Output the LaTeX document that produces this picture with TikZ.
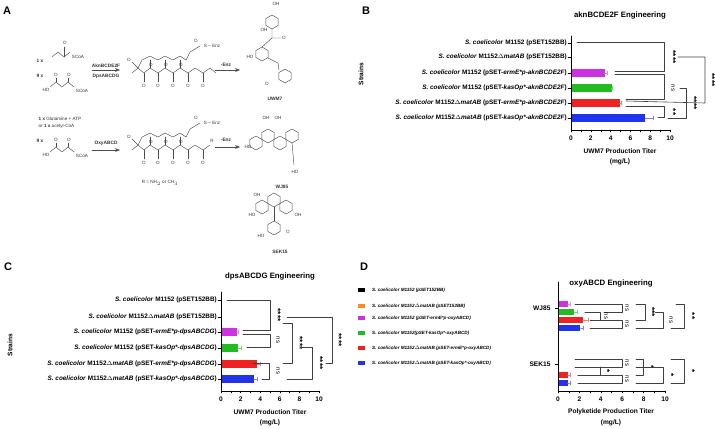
\documentclass[tikz,border=0pt]{standalone}
\usepackage{fontspec}
\setmainfont{Liberation Sans}
\usetikzlibrary{arrows.meta,calc,positioning}
\definecolor{barpurple}{HTML}{CC33DD}
\definecolor{bargreen}{HTML}{22BB22}
\definecolor{barred}{HTML}{EE2222}
\definecolor{barblue}{HTML}{2233EE}
\definecolor{barorange}{HTML}{FF8822}

% hexagon ring at (x,y)
\newcommand{\hexa}[2]{\draw[chem,shift={(#1,#2)}] (30:7)--(90:7)--(150:7)--(210:7)--(270:7)--(330:7)--cycle;}
% horizontal bar: x0, px per unit, y, value, error, colour, half height
\newcommand{\titerbar}[7]{%
  \fill[#6] (#1,#3-#7) rectangle ({#1+#2*#4},#3+#7);
  \draw[#6!60, thin] ({#1+#2*#4},#3) -- ({#1+#2*(#4+#5)},#3)
    ({#1+#2*(#4+#5)},#3-2) -- ({#1+#2*(#4+#5)},#3+2);}

\begin{document}
\begin{tikzpicture}[x=1pt, y=-1pt,
  >=Stealth, line cap=round, line join=round,
  chem/.style ={black!70, line width=0.45pt},
  ctxt/.style ={font=\fontsize{4.6}{5}\selectfont, inner sep=0.5pt, text=black!80},
  ctb/.style  ={ctxt, font=\fontsize{4.8}{5}\selectfont\bfseries},
  ltr/.style  ={font=\fontsize{11}{12}\selectfont\bfseries},
  ttl/.style  ={font=\fontsize{7.8}{9}\selectfont\bfseries},
  strain/.style={font=\fontsize{6.4}{7}\selectfont\bfseries, anchor=east, inner sep=1pt},
  leg/.style  ={font=\fontsize{4.6}{5}\selectfont\bfseries\itshape, anchor=west, inner sep=0pt},
  tick/.style ={font=\fontsize{6.6}{7}\selectfont\bfseries},
  brk/.style  ={black!75, line width=0.6pt},
  sig/.style  ={font=\fontsize{8}{8}\selectfont\bfseries, rotate=-90, inner sep=0pt},
  ns/.style   ={font=\fontsize{6}{6}\selectfont, rotate=-90, inner sep=0pt}
]
\useasboundingbox (0,0) rectangle (716,429);

% ---------------- Panel A ----------------
\node[ltr] (lA) at (7,11) {A};
\draw[chem] (52,57) -- (58,52) -- (64,57) -- (70,52);
\draw[chem] (64,57) -- (64,47);
\node[ctxt] (oa) at (65,43) {O};
\node[ctxt] (scoa1) at (78,57) {SCoA};
\node[ctb] (n1) at (40,61) {1 x};
\node[ctb] (n9a) at (40,76) {9 x};
\draw[chem] (50,87) -- (56,82) -- (62,87) -- (68,82) -- (74,87);
\draw[chem] (56,82) -- (56,78) (68,82) -- (68,78);
\node[ctxt] at (56,75) {O}; \node[ctxt] at (69,75) {O};
\node[ctxt] at (46,90) {HO}; \node[ctxt] at (82,91) {SCoA};
\draw[->, chem] (92,70) -- (120,70);
\node[ctb] at (106,66) {AknBCDE2F};
\node[ctb] at (106,76) {DpsABCDG};

% polyketide intermediates
\foreach \yo in {0, 77} {
  \begin{scope}[yshift=-\yo]
    \draw[chem] (132,73) -- (138,68) -- (144,73) -- (150,68) -- (158,73) -- (165,68) -- (173,73) -- (180,68) -- (188,73) -- (195,68) -- (203,73) -- (210,68);
    \draw[chem] (138,68) -- (142,60) -- (150,56) -- (158,60) -- (165,56) -- (173,60) -- (180,56) -- (186,60) -- (190,52) -- (200,46);
    \foreach \xo in {144,158,173,188,203} \draw[chem] (\xo,73) -- (\xo,82);
    \foreach \xo in {150,165,180} \draw[chem] (\xo,68) -- (\xo,60);
    \foreach \xo in {144,158,173,188,203} \node[ctxt] at (\xo,86) {O};
    \foreach \xo in {151,166,181} \node[ctxt] at (\xo,65) {O};
    \node[ctxt] at (129,60) {O};
    \draw[chem] (132,62) -- (138,68);
    \node[ctxt] at (196,41) {O};
    \node[ctxt] at (212,46) {S$-$Enz};
  \end{scope}
}
\draw[chem] (210,68) -- (216,73);
\node[ctxt] at (212,141) {R};
\draw[->, chem] (215,70) -- (240,70);
\node[ctb] at (226,65) {-Enz};
\draw[->, chem] (215,147) -- (240,147);
\node[ctb] at (226,140) {-Enz};
\node[ctxt] at (160,183) {R = NH$_2$ or CH$_3$};

% second route substrates
\node[ctxt, anchor=west] at (38,119) {\textbf{1 x} Glutamine + ATP};
\node[ctxt, anchor=west] at (38,126) {or \textbf{1 x} acetyl-CoA};
\node[ctb] (n9b) at (40,141) {9 x};
\draw[chem] (50,152) -- (56,147) -- (62,152) -- (68,147) -- (74,152);
\draw[chem] (56,147) -- (56,143) (68,147) -- (68,143);
\node[ctxt] at (56,140) {O}; \node[ctxt] at (69,140) {O};
\node[ctxt] at (46,155) {HO}; \node[ctxt] at (82,156) {SCoA};
\draw[->, chem] (92,150) -- (120,150);
\node[ctb] at (106,143) {OxyABCD};

% UWM7
\hexa{272}{22} \hexa{262}{54} \hexa{285}{76}
\draw[chem] (272,29) -- (272,38) -- (262,47) (272,38) -- (281,38);
\node[ctxt] at (284,38) {O};
\draw[chem] (268,58) -- (278,63) -- (279,70);
\node[ctb] (uwm) at (275,99) {UWM7};
\node[ctxt] at (276,4) {OH}; \node[ctxt] at (250,57) {HO};
\node[ctxt] at (264,30) {OH}; \node[ctxt] at (267,84) {O};

% WJ85
\hexa{256}{143} \hexa{268}{136} \hexa{280}{143} \hexa{292}{136}
\node[ctxt] at (266,118) {OH}; \node[ctxt] at (278,118) {OH};
\node[ctxt] at (248,147) {HO}; \node[ctxt] at (295,172) {HO};
\draw[chem] (292,143) -- (294,165);
\node[ctb] (wj) at (282,187) {WJ85};

% SEK15
\hexa{262}{207} \hexa{274}{200} \hexa{286}{207} \hexa{274}{228}
\draw[chem] (274,207) -- (274,221);
\node[ctxt] at (257,195) {OH}; \node[ctxt] at (252,215) {HO};
\node[ctxt] at (298,215) {OH}; \node[ctxt] at (261,236) {HO};
\node[ctxt] at (288,232) {O};
\node[ctb] (sek) at (280,252) {SEK15};

% ---------------- Panel B ----------------
\node[ltr] (lB) at (366,11) {B};
\node[ttl] (tB) at (620,15) {aknBCDE2F Engineering};
\node[tick, rotate=90] (sB) at (361,74) {Strains};
\foreach \yy/\lab in {
   43/{\textit{S. coelicolor} M1152 (pSET152BB)},
   57/{\textit{S. coelicolor} M1152$\Delta$\textit{matAB} (pSET152BB)},
   73/{\textit{S. coelicolor} M1152 (pSET-\textit{ermE*p-aknBCDE2F})},
   88/{\textit{S. coelicolor} M1152 (pSET-\textit{kasOp*-aknBCDE2F})},
  103/{\textit{S. coelicolor} M1152$\Delta$\textit{matAB} (pSET-\textit{ermE*p-aknBCDE2F})},
  118/{\textit{S. coelicolor} M1152$\Delta$\textit{matAB} (pSET-\textit{kasOp*-aknBCDE2F})}}
{ \node[strain] at (568,\yy) {\lab}; \draw (568,\yy) -- (571,\yy); }
\titerbar{571}{9.9}{73}{3.4}{0.3}{barpurple}{4}
\titerbar{571}{9.9}{88}{4.1}{0.1}{bargreen}{4}
\titerbar{571}{9.9}{103}{4.9}{0.2}{barred}{4}
\titerbar{571}{9.9}{118}{7.5}{0.8}{barblue}{4}
\draw[line width=0.6pt] (571,36) -- (571,130) -- (670,130);
\foreach \v in {0,1,...,10} \draw (571+9.9*\v,130) -- ++(0,2);
\foreach \v in {0,2,...,10} \node[tick] at (571+9.9*\v,138) {\v};
\node[tick] at (620,151) {UWM7 Production Titer};
\node[tick] at (620,162) {(mg/L)};
% brackets B
\draw[brk] (577,42) -- (664,42) -- (664,71) -- (615,71);
\node[sig] at (673,57) {****};
\draw[brk] (615,74) -- (664,74) -- (664,99) -- (626,99);
\node[ns] at (673,88) {ns};
\draw[brk] (626,106) -- (664,106) -- (664,117) -- (658,117);
\node[sig] at (673,112) {**};
\draw[brk] (680,88) -- (686,88) -- (686,118) -- (668,118);
\node[sig] at (694,103) {****};
\draw[brk] (678,57) -- (705,57) -- (705,103) -- (626,101);
\node[sig] at (712,80) {****};

% ---------------- Panel C ----------------
\node[ltr] (lC) at (8,267) {C};
\node[ttl] (tC) at (270,276) {dpsABCDG Engineering};
\node[tick, rotate=90] (sC) at (10,345) {Strains};
\foreach \yy/\lab in {
  300/{\textit{S. coelicolor} M1152 (pSET152BB)},
  317/{\textit{S. coelicolor} M1152$\Delta$\textit{matAB} (pSET152BB)},
  332/{\textit{S. coelicolor} M1152 (pSET-\textit{ermE*p-dpsABCDG})},
  348/{\textit{S. coelicolor} M1152 (pSET-\textit{kasOp*-dpsABCDG})},
  364/{\textit{S. coelicolor} M1152$\Delta$\textit{matAB} (pSET-\textit{ermE*p-dpsABCDG})},
  379/{\textit{S. coelicolor} M1152$\Delta$\textit{matAB} (pSET-\textit{kasOp*-dpsABCDG})}}
{ \node[strain] at (218,\yy) {\lab}; \draw (218,\yy) -- (221,\yy); }
\titerbar{221}{9.8}{332}{1.6}{0.2}{barpurple}{4}
\titerbar{221}{9.8}{348}{1.7}{0.4}{bargreen}{4}
\titerbar{221}{9.8}{364}{3.7}{0.3}{barred}{4}
\titerbar{221}{9.8}{379}{3.4}{0.3}{barblue}{4}
\draw[line width=0.6pt] (221,292) -- (221,391) -- (319,391);
\foreach \v in {0,1,...,10} \draw (221+9.8*\v,391) -- ++(0,2);
\foreach \v in {0,2,...,10} \node[tick] at (221+9.8*\v,399) {\v};
\node[tick] at (270,412) {UWM7 Production Titer};
\node[tick] at (270,423) {(mg/L)};
% brackets C
\draw[brk] (227,300) -- (270,300) -- (270,330) -- (243,330);
\node[sig] at (278,315) {****};
\draw[brk] (243,334) -- (270,334) -- (270,347) -- (247,347);
\node[ns] at (278,340) {ns};
\draw[brk] (253,363) -- (269,363) -- (269,379) -- (262,379);
\node[ns] at (278,371) {ns};
\draw[brk] (283,323) -- (292,323) -- (292,363) -- (283,363);
\node[sig] at (300,343) {****};
\draw[brk] (300,347) -- (312,347) -- (312,379) -- (287,379);
\node[sig] at (320,363) {****};
\draw[brk] (287,317) -- (332,317) -- (332,363) -- (326,363);
\node[sig] at (339,340) {****};

% ---------------- Panel D ----------------
\node[ltr] (lD) at (364,267) {D};
\node[ttl] (tD) at (611,283) {oxyABCD Engineering};
\foreach \yy/\col/\lab in {
  290/black/{S. coelicolor M1152 (pSET152BB)},
  306/barorange/{S. coelicolor M1152$\Delta$matAB (pSET152BB)},
  318/barpurple/{S. coelicolor M1152 (pSET-ermE*p-oxyABCD)},
  333/bargreen/{S. coelicolor M1152(pSET-kasOp*-oxyABCD)},
  348/barred/{S. coelicolor M1152$\Delta$matAB (pSET-ermE*p-oxyABCD)},
  363/barblue/{S. coelicolor M1152$\Delta$matAB (pSET-kasOp*-oxyABCD)}}
{ \fill[\col] (358,\yy-2) rectangle (365,\yy+2); \node[leg] at (372,\yy) {\lab}; }
\titerbar{558}{10.7}{304}{0.9}{0.2}{barpurple}{3}
\titerbar{558}{10.7}{312}{1.5}{0.3}{bargreen}{3}
\titerbar{558}{10.7}{320}{2.3}{0.5}{barred}{3}
\titerbar{558}{10.7}{328}{2.1}{0.3}{barblue}{3}
\titerbar{558}{10.7}{375}{0.9}{0.2}{barred}{3}
\titerbar{558}{10.7}{383}{0.9}{0.2}{barblue}{3}
\draw[line width=0.6pt] (558,282) -- (558,391) -- (665,391);
\foreach \v in {0,1,...,10} \draw (558+10.7*\v,391) -- ++(0,2);
\foreach \v in {0,2,...,10} \node[tick] at (558+10.7*\v,399) {\v};
\node[tick, anchor=east] (wjD) at (554,308) {WJ85}; \draw (555,308) -- (558,308);
\node[tick, anchor=east] (sekD) at (554,364) {SEK15}; \draw (555,364) -- (558,364);
\node[tick] at (611,412) {Polyketide Production Titer};
\node[tick] at (611,423) {(mg/L)};
% brackets D, WJ85
\draw[brk] (575,304) -- (622,304) -- (622,312) -- (604,312);
\node[ns] at (627,308) {ns};
\draw[brk] (585,312) -- (600,312) -- (600,320) -- (596,320);
\node[ns] at (606,316) {ns};
\draw[brk] (590,320) -- (622,320) -- (622,328) -- (590,328);
\node[ns] at (627,324) {ns};
\draw[brk] (636,304) -- (645,304) -- (645,320) -- (636,320);
\node[sig] at (652,312) {***};
\draw[brk] (655,312) -- (663,312) -- (663,328) -- (636,328);
\node[ns] at (671,320) {ns};
\draw[brk] (676,304) -- (684,304) -- (684,328) -- (671,328);
\node[sig] at (692,316) {**};
% brackets D, SEK15
\draw[brk] (575,359) -- (622,359) -- (622,367) -- (575,367);
\node[ns] at (627,363) {ns};
\draw[brk] (600,367) -- (600,375) -- (578,375);
\node[sig] at (607,371) {*};
\draw[brk] (578,375) -- (622,375) -- (622,383) -- (578,383);
\node[ns] at (627,379) {ns};
\draw[brk] (636,359) -- (643,359) -- (643,375) -- (636,375);
\node[sig] at (651,367) {*};
\draw[brk] (636,367) -- (663,367) -- (663,383) -- (636,383);
\node[sig] at (671,375) {*};
\draw[brk] (671,359) -- (684,359) -- (684,383) -- (671,383);
\node[sig] at (692,371) {*};
\end{tikzpicture}
\end{document}
